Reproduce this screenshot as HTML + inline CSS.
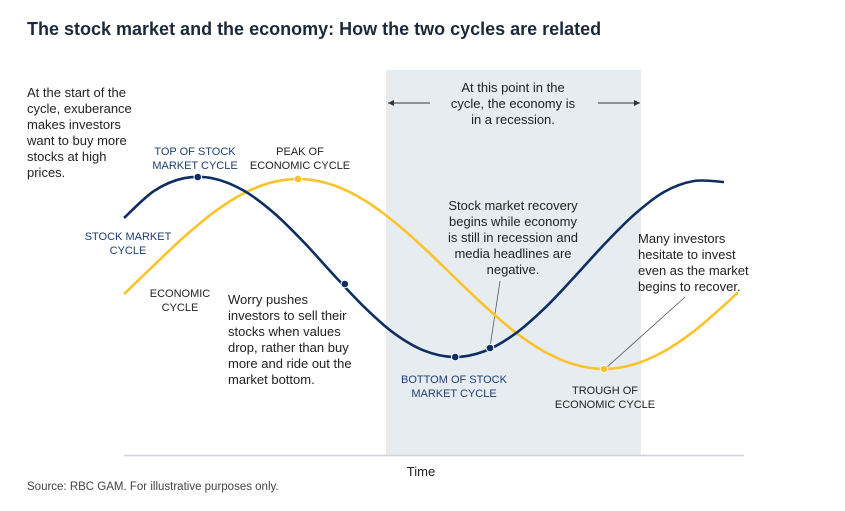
<!DOCTYPE html>
<html><head><meta charset="utf-8"><style>
body{margin:0;background:#fff;width:845px;height:511px;overflow:hidden;font-family:"Liberation Sans",sans-serif}
svg{position:absolute;left:0;top:0}
text{font-family:"Liberation Sans",sans-serif}
</style></head><body>
<svg width="845" height="511">
<text x="27" y="35" font-size="18" font-weight="bold" fill="#1b2a3a">The stock market and the economy: How the two cycles are related</text>
<rect x="386" y="70" width="255" height="385" fill="#e6ecf0"/>
<line x1="124" y1="455.5" x2="744" y2="455.5" stroke="#d0d4d8" stroke-width="1.5"/>
<text x="421" y="476" font-size="13" text-anchor="middle" fill="#222">Time</text>
<text x="27" y="490" font-size="11.5" fill="#444">Source: RBC GAM. For illustrative purposes only.</text>
<g font-size="13" fill="#222" text-anchor="middle">
<text x="513" y="92">At this point in the</text><text x="513" y="108">cycle, the economy is</text><text x="513" y="124">in a recession.</text>
<line x1="388" y1="103" x2="430" y2="103" stroke="#333"/><path d="M388 103 l6 -3 v6z" fill="#333"/>
<line x1="598" y1="103" x2="640" y2="103" stroke="#333"/><path d="M640 103 l-6 -3 v6z" fill="#333"/>
</g>
<g font-size="13" fill="#222">
<text x="27" y="97">At the start of the</text><text x="27" y="113">cycle, exuberance</text><text x="27" y="129">makes investors</text><text x="27" y="145">want to buy more</text><text x="27" y="161">stocks at high</text><text x="27" y="177">prices.</text>
<text x="228" y="304">Worry pushes</text><text x="228" y="320">investors to sell their</text><text x="228" y="336">stocks when values</text><text x="228" y="352">drop, rather than buy</text><text x="228" y="368">more and ride out the</text><text x="228" y="384">market bottom.</text>
<g text-anchor="middle"><text x="513" y="210">Stock market recovery</text><text x="513" y="226">begins while economy</text><text x="513" y="242">is still in recession and</text><text x="513" y="258">media headlines are</text><text x="513" y="274">negative.</text></g>
<text x="638" y="243">Many investors</text><text x="638" y="259">hesitate to invest</text><text x="638" y="275">even as the market</text><text x="638" y="291">begins to recover.</text>
</g>
<line x1="500" y1="281" x2="490" y2="347" stroke="#555" stroke-width="0.8"/>
<line x1="685" y1="297" x2="606" y2="368" stroke="#555" stroke-width="0.8"/>
<g font-size="11" text-anchor="middle">
<text x="195" y="155" fill="#1d3f73">TOP OF STOCK</text><text x="195" y="169" fill="#1d3f73">MARKET CYCLE</text>
<text x="300" y="155" fill="#222">PEAK OF</text><text x="300" y="169" fill="#222">ECONOMIC CYCLE</text>
<text x="128" y="240" fill="#1d3f73">STOCK MARKET</text><text x="128" y="254" fill="#1d3f73">CYCLE</text>
<text x="180" y="297" fill="#222">ECONOMIC</text><text x="180" y="311" fill="#222">CYCLE</text>
<text x="454" y="383" fill="#1d3f73">BOTTOM OF STOCK</text><text x="454" y="397" fill="#1d3f73">MARKET CYCLE</text>
<text x="605" y="394" fill="#222">TROUGH OF</text><text x="605" y="408" fill="#222">ECONOMIC CYCLE</text>
</g>
<g id="series"></g>
</svg>
<script>
const stockT=[0,5,10,15,20,25,30,35,40,45,50,55,60,65,70,75,80,85,90,95,100];
const stockV=[86,99.5,105.9,105.7,99.6,88.5,73.8,57.4,41.6,28.4,19.7,16.5,19.3,27.7,40.6,56.3,72.7,87.6,99,104.5,104];
const econT=[0,5,10,15,20,25,30,35,40,45,50,55,60,65,70,75,80,85,90,95,100,102.3];
const econV=[47.9,62.4,76.5,88.9,98.4,104.1,105.4,102.3,95,84.2,71,56.6,42.3,29.4,19.3,12.8,10.5,12.8,19.3,29.4,42.3,48.8];
const stockDots=[[12.3,106.5],[36.8,53],[55.2,16.5],[61,21]];
const econDots=[[29,105.5],[80,10.5]];
const xs=t=>124+t*6, ys=v=>390-v*2;
const NS='http://www.w3.org/2000/svg', g=document.getElementById('series');
function path(T,V){const p=T.map((t,i)=>[xs(t),ys(V[i])]);let d='M'+p[0];
for(let i=0;i<p.length-1;i++){const a=p[Math.max(0,i-1)],b=p[i],c=p[i+1],e=p[Math.min(p.length-1,i+2)];
d+=' C'+(b[0]+(c[0]-a[0])/6)+','+(b[1]+(c[1]-a[1])/6)+' '+(c[0]-(e[0]-b[0])/6)+','+(c[1]-(e[1]-b[1])/6)+' '+c[0]+','+c[1];}return d;}
function draw(T,V,col,name){const el=document.createElementNS(NS,'path');el.setAttribute('d',path(T,V));el.setAttribute('fill','none');el.setAttribute('stroke',col);el.setAttribute('stroke-width','2.6');


g.appendChild(el);}
function dots(D,col,name){D.forEach(d=>{const c=document.createElementNS(NS,'circle');c.setAttribute('cx',xs(d[0]));c.setAttribute('cy',ys(d[1]));c.setAttribute('r','3.8');c.setAttribute('fill',col);c.setAttribute('stroke','#fff');c.setAttribute('stroke-width','1');


g.appendChild(c);});}
draw(econT,econV,'#fcc32c','economic-cycle-line');
draw(stockT,stockV,'#0e2d62','stock-market-cycle-line');
dots(stockDots,'#0e2d62','stock-cycle-point');
dots(econDots,'#fcc32c','economic-cycle-point');
</script>
</body></html>
